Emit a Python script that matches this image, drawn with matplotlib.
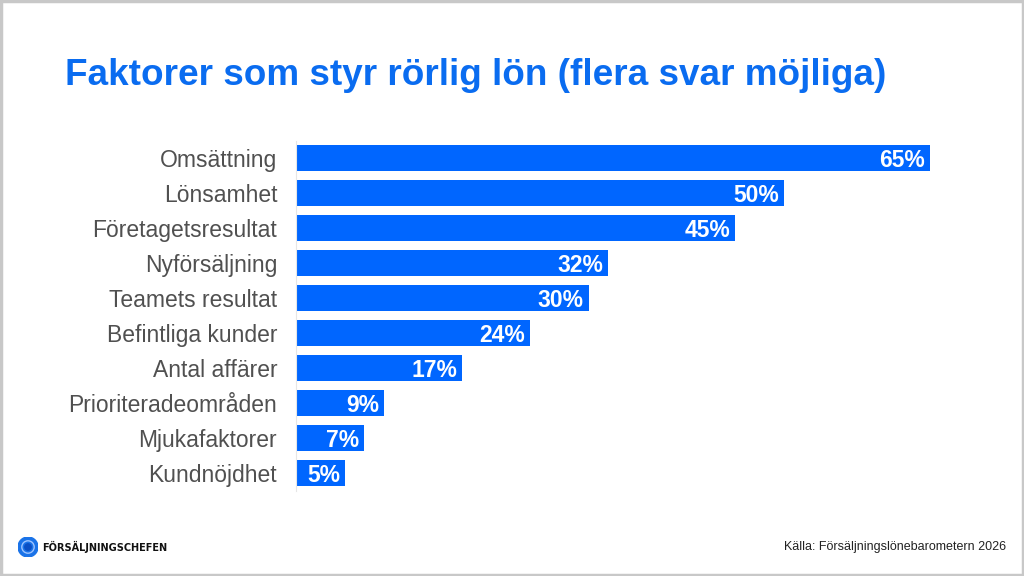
import matplotlib
matplotlib.use('Agg')
import matplotlib.pyplot as plt
from matplotlib.patches import Rectangle, Circle

# data
factors = ['Omsättning', 'Lönsamhet', 'Företagetsresultat', 'Nyförsäljning',
           'Teamets resultat', 'Befintliga kunder', 'Antal affärer',
           'Prioriteradeområden', 'Mjukafaktorer', 'Kundnöjdhet']
shares = [65, 50, 45, 32, 30, 24, 17, 9, 7, 5]

C_BLUE = '#0066ff'
C_TITLE = '#0a6cf0'

plt.rcParams['font.family'] = ['Liberation Sans', 'DejaVu Sans']

fig = plt.figure(figsize=(10.24, 5.76), dpi=100)
ax = fig.add_axes([296/1024, 1 - 490.5/576, 634/1024, 350/576])

y = range(len(factors))
ax.barh(list(y), shares, height=0.75, color=C_BLUE)
for i, v in enumerate(shares):
    ax.text(v - 0.5, i, f'{v}%', ha='right', va='center_baseline', color='white',
            fontsize=16.5, fontweight='bold')

ax.set_xlim(0, 65)
ax.set_ylim(len(factors) - 0.5, -0.5)
ax.set_yticks(list(y))
ax.set_yticklabels(factors, fontsize=16.5, color='#505050')
ax.tick_params(axis='y', length=0, pad=13.5)
ax.set_xticks([])
for s in ['top', 'right', 'bottom']:
    ax.spines[s].set_visible(False)
ax.spines['left'].set_color('#e6e6e6')
ax.spines['left'].set_linewidth(0.8)

fig.text(65/1024, 1 - 85/576, 'Faktorer som styr rörlig lön (flera svar möjliga)',
         fontsize=26.6, fontweight='bold', color=C_TITLE, ha='left', va='baseline')

# logo
logo_ax = fig.add_axes([18/1024, 1 - 557/576, 20/1024, 20/576])
logo_ax.set_xlim(-1, 1)
logo_ax.set_ylim(-1, 1)
logo_ax.set_aspect('equal')
logo_ax.axis('off')
logo_ax.add_patch(Circle((0, 0), 1.0, color='#1a73e8'))
logo_ax.add_patch(Circle((0, 0), 0.62, fill=False, ec='#9cc3ff', lw=1.0))
logo_ax.add_patch(Circle((0, 0), 0.32, color='#0b4fc4'))
fig.text(42/1024, 1 - 547/576, 'FÖRSÄLJNINGSCHEFEN', fontsize=7.8,
         fontweight='bold', color='#111111', ha='left', va='center',
         family='DejaVu Sans', fontstretch='condensed')

fig.text(1006/1024, 1 - 547/576, 'Källa: Försäljningslönebarometern 2026',
         fontsize=9, color='#222222', ha='right', va='center')

# frame
fig.patches.append(Rectangle((0.001, 0.002), 0.998, 0.996, transform=fig.transFigure,
                             fill=False, ec='#c8c8c8', lw=2.5))

fig.savefig('out.png', dpi=100)
